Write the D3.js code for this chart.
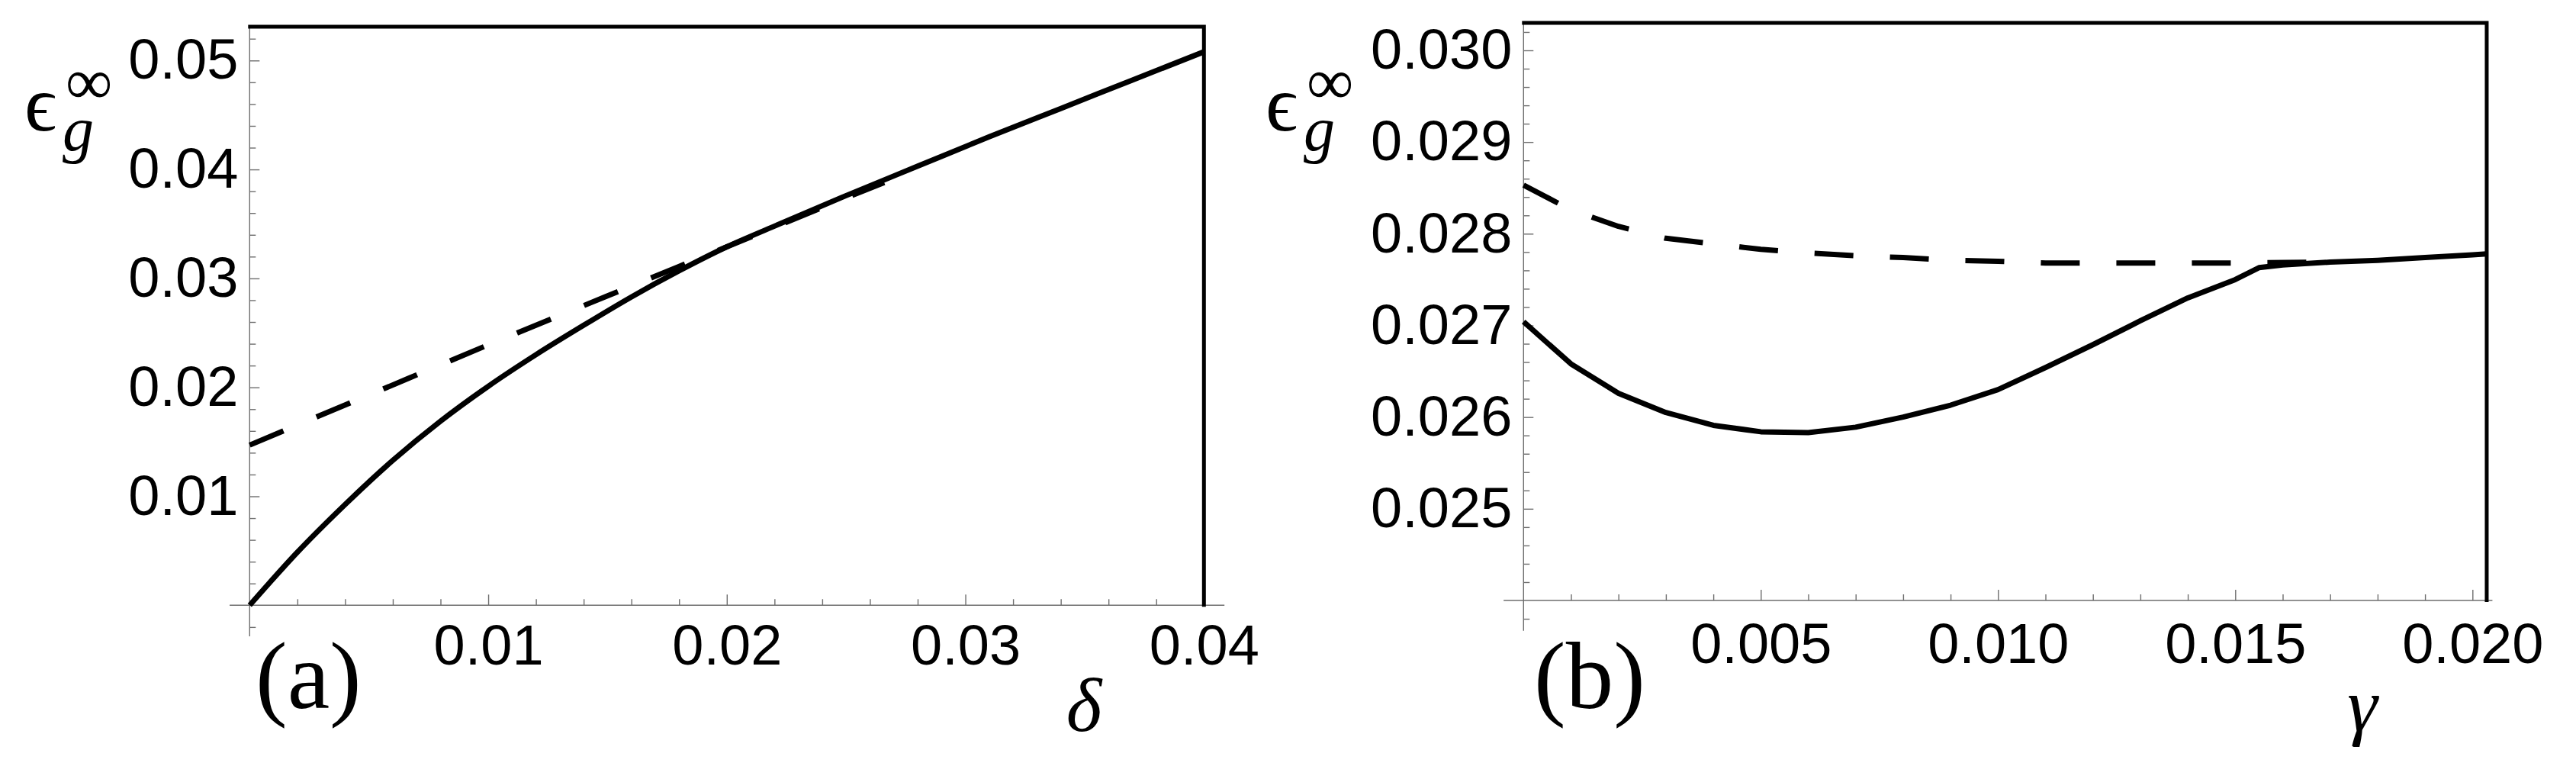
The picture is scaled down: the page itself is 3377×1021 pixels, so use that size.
<!DOCTYPE html>
<html>
<head>
<meta charset="utf-8">
<script src="https://cdn.jsdelivr.net/npm/d3@7"></script>
<style>
  html, body { margin: 0; padding: 0; background: #fff; }
  svg { display: block; }
</style>
</head>
<body>
<script>
// ---------------- data ----------------
// Panel (a): epsilon_g^inf vs delta
const deltaSolidA = [0, 0.002, 0.004, 0.006, 0.008, 0.010, 0.012, 0.014, 0.016, 0.018, 0.020, 0.022, 0.025, 0.028, 0.031, 0.034, 0.037, 0.040];
const epsSolidA   = [0, 0.00487, 0.00925, 0.0133, 0.0169, 0.0201, 0.0230, 0.0257, 0.0283, 0.0307, 0.0329, 0.0348, 0.0376, 0.0403, 0.0430, 0.0456, 0.0482, 0.0508];
const deltaDashA  = [0, 0.005, 0.010, 0.015, 0.020, 0.025, 0.0266];
const epsDashA    = [0.0147, 0.0193, 0.0239, 0.0284, 0.0329, 0.0374, 0.0388];

// Panel (b): epsilon_g^inf vs gamma
const gammaSolidB = [0, 0.001, 0.002, 0.003, 0.004, 0.005, 0.006, 0.007, 0.008, 0.009, 0.010, 0.011, 0.012, 0.013, 0.014, 0.015, 0.0155, 0.016, 0.017, 0.018, 0.019, 0.020, 0.0203];
const epsSolidB   = [0.02704, 0.02658, 0.02626, 0.02605, 0.02591, 0.02584, 0.02583, 0.02589, 0.02600, 0.02613, 0.02630, 0.02654, 0.02679, 0.02705, 0.02730, 0.02750, 0.02763, 0.02766, 0.02769, 0.02771, 0.02774, 0.02777, 0.02778];
const gammaDashB  = [0, 0.001, 0.002, 0.003, 0.004, 0.005, 0.006, 0.007, 0.008, 0.009, 0.010, 0.011, 0.012, 0.013, 0.014, 0.015, 0.0166];
const epsDashB    = [0.02853, 0.02826, 0.02808, 0.02795, 0.02789, 0.02783, 0.02779, 0.02776, 0.02774, 0.02771, 0.02770, 0.02768, 0.02768, 0.02768, 0.02768, 0.02768, 0.02769];

// ticks
const xTicksA = [0.01, 0.02, 0.03, 0.04];
const xTickLabelsA = ["0.01", "0.02", "0.03", "0.04"];
const yTicksA = [0.01, 0.02, 0.03, 0.04, 0.05];
const yTickLabelsA = ["0.01", "0.02", "0.03", "0.04", "0.05"];
const xTicksB = [0.005, 0.010, 0.015, 0.020];
const xTickLabelsB = ["0.005", "0.010", "0.015", "0.020"];
const yTicksB = [0.025, 0.026, 0.027, 0.028, 0.029, 0.030];
const yTickLabelsB = ["0.025", "0.026", "0.027", "0.028", "0.029", "0.030"];

const panelLabels = ["(a)", "(b)"];
const xAxisLabels = ["\u03B4", "\u03B3"];

// ---------------- drawing ----------------
const W = 3377, H = 1021;
const svg = d3.select("body").append("svg").attr("width", W).attr("height", H);
svg.append("rect").attr("width", W).attr("height", H).attr("fill", "#fff");

const AXIS_GRAY = "#6e6e6e";
const TICK_FONT = "'Liberation Sans', Arial, Helvetica, sans-serif";
const SERIF = "'Liberation Serif', 'Times New Roman', 'DejaVu Serif', serif";

function zip(xs, ys) { return xs.map((x, i) => [x, ys[i]]); }

function drawPanel(p) {
  const x = d3.scaleLinear().domain(p.xDomain).range(p.xRange);
  const y = d3.scaleLinear().domain(p.yDomain).range(p.yRange);
  const g = svg.append("g");

  const x0 = x(0), y0 = y(p.yDomain[0]);

  // axis lines
  g.append("line").attr("x1", x0).attr("x2", x0)
    .attr("y1", y(p.frameTop)).attr("y2", y(p.yAxisMin))
    .attr("stroke", AXIS_GRAY).attr("stroke-width", 1.4);
  g.append("line").attr("x1", x(p.xAxisMin)).attr("x2", x(p.xAxisMax))
    .attr("y1", y0).attr("y2", y0)
    .attr("stroke", AXIS_GRAY).attr("stroke-width", 1.4);

  function styleAxis(sel) {
    sel.select(".domain").remove();
    sel.attr("font-size", null).attr("font-family", null);
    sel.selectAll(".tick line").attr("stroke", AXIS_GRAY).attr("stroke-width", 1.4);
    sel.selectAll(".tick text")
      .attr("fill", "#000")
      .style("font-family", TICK_FONT)
      .style("font-size", "74px");
  }

  // y minor ticks
  const yMinor = g.append("g").attr("transform", `translate(${x0},0)`)
    .call(d3.axisLeft(y).tickValues(p.yMinor).tickFormat("").tickSizeInner(-8).tickSizeOuter(0));
  styleAxis(yMinor);
  // y major ticks
  const yMajor = g.append("g").attr("transform", `translate(${x0},0)`)
    .call(d3.axisLeft(y).tickValues(p.yTicks).tickFormat((d, i) => p.yLabels[i])
      .tickSizeInner(-13).tickSizeOuter(0).tickPadding(15));
  styleAxis(yMajor);

  // x minor ticks
  const xMinor = g.append("g").attr("transform", `translate(0,${y0})`)
    .call(d3.axisBottom(x).tickValues(p.xMinor).tickFormat("").tickSizeInner(-8).tickSizeOuter(0));
  styleAxis(xMinor);
  const xMajor = g.append("g").attr("transform", `translate(0,${y0})`)
    .call(d3.axisBottom(x).tickValues(p.xTicks).tickFormat((d, i) => p.xLabels[i])
      .tickSizeInner(-14).tickSizeOuter(0).tickPadding(p.xPad));
  styleAxis(xMajor);

  // partial frame: top and right
  g.append("path")
    .attr("d", `M${x0 - 2},${y(p.frameTop)} H${x(p.frameRight)} V${y0 + 2}`)
    .attr("fill", "none").attr("stroke", "#000").attr("stroke-width", 5)
    .attr("stroke-linejoin", "miter");

  const line = d3.line().x(d => x(d[0])).y(d => y(d[1])).curve(p.curve);

  g.append("path").datum(p.dashed).attr("d", line)
    .attr("fill", "none").attr("stroke", "#000").attr("stroke-width", 7)
    .attr("stroke-dasharray", p.dash).attr("stroke-linejoin", "round");
  g.append("path").datum(p.solid).attr("d", line)
    .attr("fill", "none").attr("stroke", "#000").attr("stroke-width", 7)
    .attr("stroke-linejoin", "round");

  // panel label
  g.append("text").attr("x", p.panelX).attr("y", 928)
    .style("font-family", SERIF).style("font-size", "125px")
    .text(p.panelLabel);

  // x axis label
  g.append("text").attr("x", p.axisLabelX).attr("y", 958)
    .attr("text-anchor", "middle")
    .style("font-family", SERIF).style("font-size", "100px").style("font-style", "italic")
    .text(p.axisLabel);

  // y axis label: epsilon_g^infinity (one text element with sub/superscript tspans)
  const lx = p.yLabelX;
  const yl = g.append("text").attr("x", lx).attr("y", 171)
    .style("font-family", SERIF).style("font-size", "104px");
  yl.append("tspan").text("\u03F5");
  yl.append("tspan").attr("x", lx + 50).attr("y", 197)
    .style("font-size", "82px").style("font-style", "italic").text("g");
  yl.append("tspan").attr("x", lx + 54).attr("y", 136)
    .style("font-size", "86px").text("\u221E");
}

drawPanel({
  xDomain: [0, 0.04], xRange: [327.3, 1578.3],
  yDomain: [0, 0.05], yRange: [793.3, 79.3],
  frameTop: 0.0531, frameRight: 0.04, yAxisMin: -0.00285,
  xAxisMin: -0.00084, xAxisMax: 0.04086,
  yTicks: yTicksA, yLabels: yTickLabelsA,
  yMinor: d3.range(-0.002, 0.0525, 0.002).filter(v => Math.abs(v) > 1e-9 && Math.abs(v * 100 - Math.round(v * 100)) > 1e-6),
  xTicks: xTicksA, xLabels: xTickLabelsA,
  xMinor: d3.range(0.002, 0.0401, 0.002).filter(v => Math.abs(v * 100 - Math.round(v * 100)) > 1e-6),
  xPad: 25.5,
  solid: zip(deltaSolidA, epsSolidA), dashed: zip(deltaDashA, epsDashA),
  curve: d3.curveMonotoneX, dash: "48,47",
  panelLabel: panelLabels[0], panelX: 335,
  axisLabel: xAxisLabels[0], axisLabelX: 1421,
  yLabelX: 32
});

drawPanel({
  xDomain: [0, 0.02], xRange: [1997.3, 3241.3],
  yDomain: [0.024, 0.030], yRange: [787, 66],
  frameTop: 0.0303, frameRight: 0.0203, yAxisMin: 0.02367,
  xAxisMin: -0.00042, xAxisMax: 0.02042,
  yTicks: yTicksB, yLabels: yTickLabelsB,
  yMinor: d3.range(0.0238, 0.03025, 0.0002).filter(v => Math.abs(v - 0.024) > 1e-9 && Math.abs(v * 1000 - Math.round(v * 1000)) > 1e-6),
  xTicks: xTicksB, xLabels: xTickLabelsB,
  xMinor: d3.range(0.001, 0.02005, 0.001).filter(v => Math.abs(v * 200 - Math.round(v * 200)) > 1e-6),
  xPad: 29.5,
  solid: zip(gammaSolidB, epsSolidB), dashed: zip(gammaDashB, epsDashB),
  curve: d3.curveLinear, dash: "51,48",
  panelLabel: panelLabels[1], panelX: 2011,
  axisLabel: xAxisLabels[1], axisLabelX: 3097,
  yLabelX: 1659
});
</script>
</body>
</html>
